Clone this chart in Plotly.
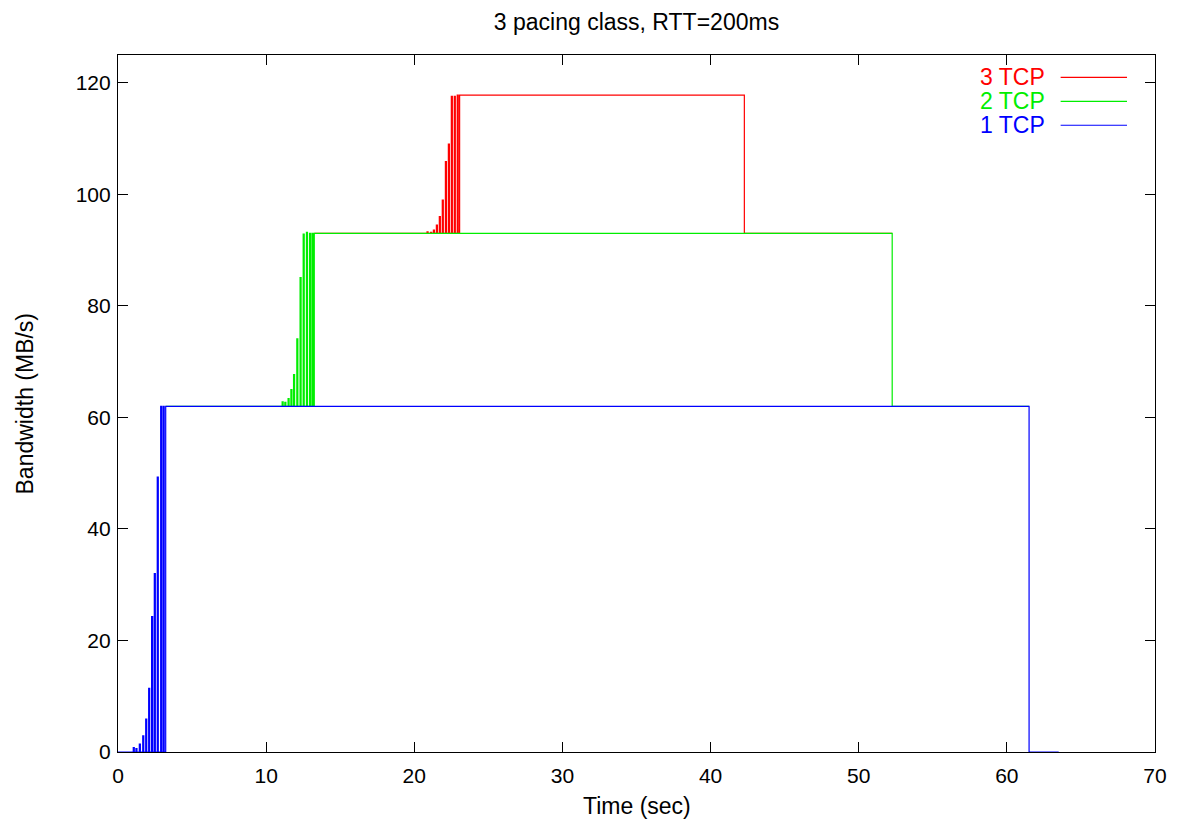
import plotly.graph_objects as go

# ---------------- data ----------------
# 1 TCP (blue) : slow-start bursts from 0 up to the 62 MB/s plateau
tcp1_burst_t = [1.03, 1.21, 1.44, 1.67, 1.87, 2.07, 2.27, 2.45, 2.65, 2.88, 3.05]
tcp1_burst_h = [0.8, 0.6, 1.4, 2.9, 5.9, 11.4, 24.3, 32.0, 49.3, 62.0, 62.0]
tcp1_start, tcp1_base = 0.0, 0.0
tcp1_plateau_t, tcp1_level = 3.22, 62.0
tcp1_end_t, tcp1_end_level, tcp1_tail_t = 61.5, 0.0, 63.5

# 2 TCP (green) : cumulative bandwidth of two flows
tcp2_burst_t = [11.08, 11.26, 11.48, 11.67, 11.85, 12.07, 12.29, 12.50, 12.72, 12.93, 13.10]
tcp2_burst_h = [62.8, 62.7, 63.4, 65.0, 67.7, 74.1, 85.1, 92.9, 93.2, 93.0, 93.0]
tcp2_start, tcp2_base = 3.22, 62.0
tcp2_plateau_t, tcp2_level = 13.25, 93.0
tcp2_end_t, tcp2_end_level, tcp2_tail_t = 52.26, 62.0, 61.5

# 3 TCP (red) : cumulative bandwidth of three flows
tcp3_burst_t = [20.86, 21.10, 21.29, 21.49, 21.69, 21.89, 22.10, 22.30, 22.50, 22.70, 22.90]
tcp3_burst_h = [93.3, 93.2, 93.6, 94.5, 96.0, 99.0, 105.9, 109.0, 117.6, 117.6, 117.8]
tcp3_start, tcp3_base = 13.25, 93.0
tcp3_plateau_t, tcp3_level = 23.06, 117.8
tcp3_end_t, tcp3_end_level, tcp3_tail_t = 42.28, 93.0, 52.26

series_names = ["3 TCP", "2 TCP", "1 TCP"]
series_colors = ["#ff0000", "#00ee00", "#0000ff"]

x_ticks = [0, 10, 20, 30, 40, 50, 60, 70]
y_ticks = [0, 20, 40, 60, 80, 100, 120]

BURST_W = 0.07


def build(start, base, bt, bh, pt, level, et, elev, tail):
    xs, ys = [start], [base]
    for t, h in zip(bt, bh):
        xs += [t, t, t + BURST_W, t + BURST_W]
        ys += [base, h, h, base]
    xs += [pt, pt, et, et, tail]
    ys += [base, level, level, elev, elev]
    return xs, ys


series = [
    build(tcp3_start, tcp3_base, tcp3_burst_t, tcp3_burst_h, tcp3_plateau_t,
          tcp3_level, tcp3_end_t, tcp3_end_level, tcp3_tail_t),
    build(tcp2_start, tcp2_base, tcp2_burst_t, tcp2_burst_h, tcp2_plateau_t,
          tcp2_level, tcp2_end_t, tcp2_end_level, tcp2_tail_t),
    build(tcp1_start, tcp1_base, tcp1_burst_t, tcp1_burst_h, tcp1_plateau_t,
          tcp1_level, tcp1_end_t, tcp1_end_level, tcp1_tail_t),
]

FONT = "Liberation Sans, Arial, sans-serif"
FS = 21      # tick labels
FL = 23      # title, axis titles, legend

fig = go.Figure()
for (xs, ys), name, col in zip(series, series_names, series_colors):
    fig.add_trace(go.Scatter(x=xs, y=ys, mode="lines", name=name,
                             line=dict(color=col, width=1.2), showlegend=False))

# gnuplot-style legend: label on the left, line sample on the right
for i, (name, col) in enumerate(zip(series_names, series_colors)):
    yp = 0.968 - i * 0.0344
    fig.add_annotation(x=0.896, y=yp, xref="paper", yref="paper", text=name,
                       showarrow=False, xanchor="right", yanchor="middle",
                       font=dict(family=FONT, size=FL, color=col))
    fig.add_shape(type="line", xref="paper", yref="paper", x0=0.909, x1=0.973,
                  y0=yp, y1=yp, line=dict(color=col, width=1.2))

# axis titles
fig.add_annotation(x=0.5, y=-0.0775, xref="paper", yref="paper", text="Time (sec)",
                   showarrow=False, xanchor="center", yanchor="middle",
                   font=dict(family=FONT, size=FL, color="black"))
fig.add_annotation(x=-0.0897, y=0.5, xref="paper", yref="paper", text="Bandwidth (MB/s)",
                   showarrow=False, xanchor="center", yanchor="middle", textangle=-90,
                   font=dict(family=FONT, size=FL, color="black"))

axis_common = dict(showline=True, linecolor="black", linewidth=1.2, mirror="ticks",
                   ticks="inside", ticklen=10, tickwidth=1.2, tickcolor="black",
                   showgrid=False, zeroline=False, automargin=False,
                   tickfont=dict(family=FONT, size=FS, color="black"))

# the page body adds an 8 px offset, so the figure is sized/margined to compensate
fig.update_layout(
    width=1170, height=822,
    margin=dict(l=110, r=23, t=47, b=78),
    paper_bgcolor="white", plot_bgcolor="white",
    title=dict(text="3 pacing class, RTT=200ms", x=0.5, xanchor="center",
               xref="paper", yref="container", y=0.983, yanchor="middle",
               font=dict(family=FONT, size=FL, color="black")),
    xaxis=dict(range=[0, 70], tickvals=x_ticks, ticklabelstandoff=5, **axis_common),
    yaxis=dict(range=[0, 125], tickvals=y_ticks, ticklabelstandoff=2, **axis_common),
)

fig.write_html("out.html")
